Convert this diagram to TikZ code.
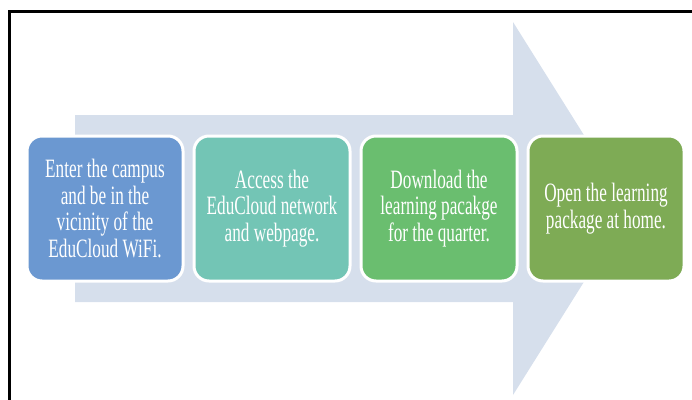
\documentclass[tikz,border=0pt]{standalone}
\usepackage{fontspec}
\setmainfont[FakeStretch=0.65]{Liberation Serif}
\definecolor{arrowfill}{HTML}{D6DFEC}
\definecolor{stepA}{HTML}{6B98D1}
\definecolor{stepB}{HTML}{73C5B5}
\definecolor{stepC}{HTML}{6ABE6F}
\definecolor{stepD}{HTML}{7EAB55}
\begin{document}
\begin{tikzpicture}[x=1pt,y=-1pt,
  stepbox/.style={draw=white, line width=3pt, rounded corners=15pt,
    minimum width=156pt, minimum height=145pt, inner sep=0pt,
    text=white, align=center, font=\fontsize{26.5}{26.5}\selectfont},
  framerule/.style={line width=3pt, black}]
\useasboundingbox (0,0) rectangle (692,399);
% wide background arrow
\fill[arrowfill] (75,115) -- (513,115) -- (513,22) -- (630,208.5)
  -- (513,395) -- (513,302) -- (75,302) -- cycle;
% process steps
\node[stepbox, fill=stepA] (b1) at (105,208.5)
  {Enter the campus\\and be in the\\vicinity of the\\EduCloud WiFi.};
\node[stepbox, fill=stepB] (b2) at (272,208.5)
  {Access the\\EduCloud network\\and webpage.};
\node[stepbox, fill=stepC] (b3) at (439,208.5)
  {Download the\\learning pacakge\\for the quarter.};
\node[stepbox, fill=stepD] (b4) at (606,208.5)
  {Open the learning\\package at home.};
% outer frame
\draw[framerule] (9.5,410) -- (9.5,11.5) -- (700,11.5);
\end{tikzpicture}
\end{document}
